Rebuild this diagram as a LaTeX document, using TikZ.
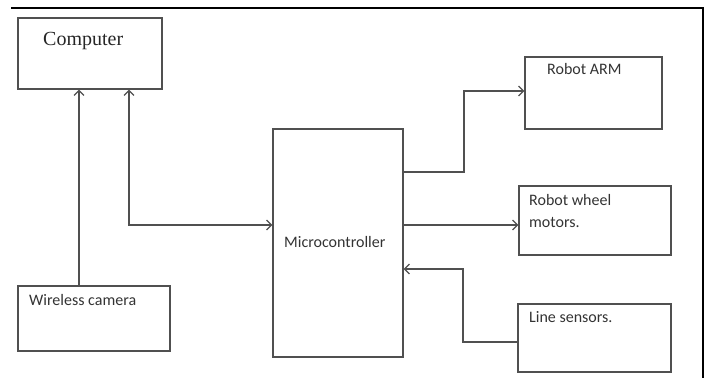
\documentclass[tikz,border=0pt]{standalone}
\usepackage{fontspec}
\setmainfont{Carlito}
\newfontfamily\serifface{Liberation Serif}
\usetikzlibrary{arrows.meta}
\definecolor{linegray}{HTML}{505050}
\definecolor{textgray}{HTML}{333333}
\tikzset{
  blk/.style={draw=linegray, line width=1.2pt, rectangle, inner sep=0pt},
  lbl/.style={anchor=base west, inner sep=0pt, text=textgray, font=\fontsize{16}{19}\selectfont},
  conn/.style={draw=linegray, line width=1.2pt},
  tip/.style={conn, -{Straight Barb[length=5pt,width=10pt,line width=1.2pt]}},
  tiptwo/.style={conn, {Straight Barb[length=5pt,width=10pt,line width=1.2pt]}-{Straight Barb[length=5pt,width=10pt,line width=1.2pt]}}
}
\begin{document}
\begin{tikzpicture}[x=1pt,y=-1pt]
\useasboundingbox (0,0) rectangle (709,378);
% frame lines
\coordinate (fa) at (11,7.5);
\coordinate (fb) at (703,7.5);
\coordinate (fc) at (703,378);
\draw[black, line width=2pt] (fa) -- (fb) -- (fc);
% blocks
\node[blk, minimum width=144pt, minimum height=71pt] (comp) at (90,53.5) {};
\node[blk, minimum width=152pt, minimum height=65pt] (cam) at (94,318.5) {};
\node[blk, minimum width=130pt, minimum height=228pt] (mcu) at (338,243) {};
\node[blk, minimum width=137pt, minimum height=72pt] (arm) at (593.5,93) {};
\node[blk, minimum width=152pt, minimum height=69pt] (wheel) at (595,220.5) {};
\node[blk, minimum width=153pt, minimum height=68pt] (sens) at (594.5,338) {};
% labels
\node[lbl, font=\serifface\fontsize{20}{24}\selectfont, text=black!85] (tcomp) at (43,45) {Computer};
\node[lbl] (tcam) at (29,305) {Wireless camera};
\node[lbl] (tmcu) at (284,247) {Microcontroller};
\node[lbl] (tarm) at (547,74) {Robot ARM};
\node[lbl] (twa) at (529,205) {Robot wheel};
\node[lbl] (twb) at (529,227) {motors.};
\node[lbl] (tsens) at (529,322) {Line sensors.};
% helper coordinates
\coordinate (xa) at (79,0);
\coordinate (xb) at (129,0);
\coordinate (ya) at (0,225);
\coordinate (ka) at (0,172);
\coordinate (kb) at (464,91);
\coordinate (kc) at (0,342);
\coordinate (kd) at (463,269);
% connectors
\draw[tip] (cam.north -| xa) -- (comp.south -| xa);
\draw[tiptwo] (comp.south -| xb) |- (mcu.west |- ya);
\draw[tip] (mcu.east |- ka) -| (kb) -- (arm.west |- kb);
\draw[tip] (mcu.east |- ya) -- (wheel.west |- ya);
\draw[tip] (sens.west |- kc) -| (kd) -- (mcu.east |- kd);
\end{tikzpicture}
\end{document}
